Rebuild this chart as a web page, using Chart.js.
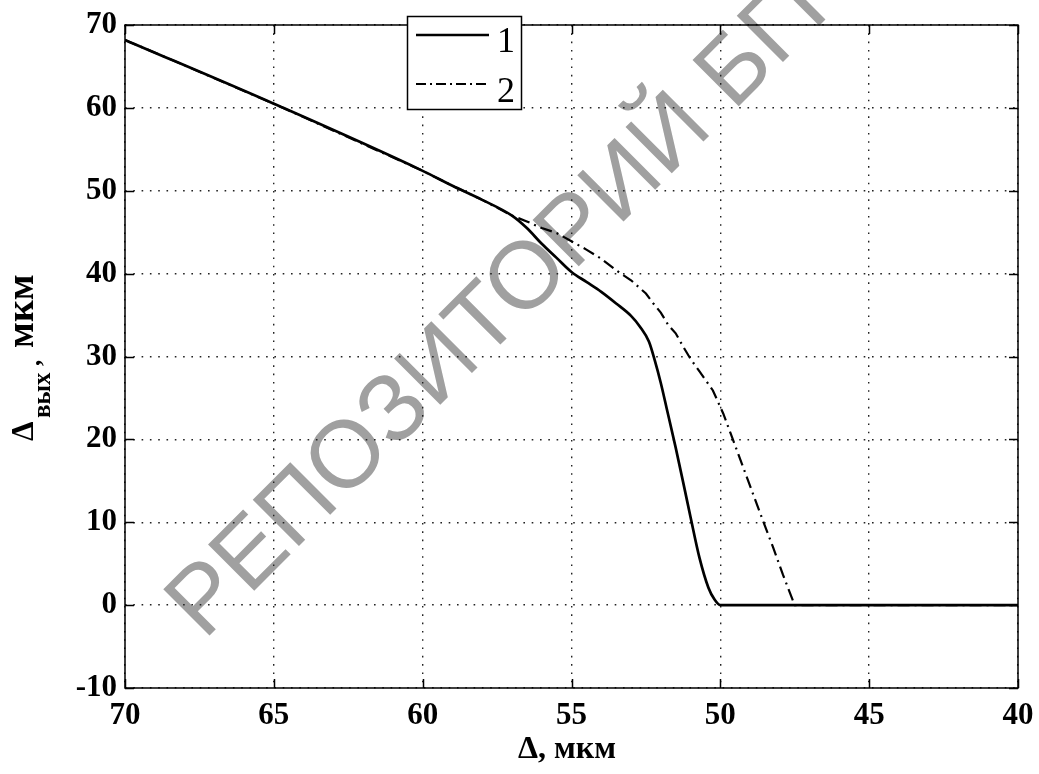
<!DOCTYPE html>
<html>
<head>
<meta charset="utf-8">
<script src="https://cdn.jsdelivr.net/npm/chart.js@4"></script>
<style>
  html,body{margin:0;padding:0;background:#fff;}
  #wrap{width:1039px;height:774px;}
</style>
</head>
<body>
<div id="wrap"><canvas id="c" width="1039" height="774"></canvas></div>
<script>
// кривая 1 (сплошная)
const solidX = [70, 65, 60, 59, 58, 57, 56.5, 56, 55.5, 55, 54.5, 54, 53.5, 53, 52.7, 52.4, 52.2, 52, 51.8, 51.5, 51.2, 51, 50.7, 50.4, 50.2, 50, 45, 40];
const solidY = [68.2, 60.5, 52.4, 50.6, 48.9, 47.0, 45.5, 43.6, 41.9, 40.2, 39.0, 37.8, 36.4, 34.9, 33.6, 31.8, 29.5, 26.8, 23.7, 19.0, 14.0, 10.6, 5.7, 2.1, 0.7, 0, 0, 0];
// кривая 2 (штрих-пунктир)
const dashX = [70, 65, 60, 59, 58, 57, 56.5, 56, 55.5, 55, 54.5, 54, 53.5, 53, 52.5, 52.25, 52, 51.75, 51.5, 51.25, 51, 50.7, 50.25, 49.9, 49.57, 49.24, 48.9, 48.57, 48.23, 47.9, 47.6, 47.5, 45, 40];
const dashY = [68.2, 60.5, 52.4, 50.6, 48.9, 47.0, 46.3, 45.5, 44.9, 43.9, 42.9, 41.8, 40.4, 39.2, 37.6, 36.4, 35.3, 33.8, 32.8, 31.2, 29.7, 28.2, 25.9, 23.1, 19.9, 16.7, 13.4, 10.2, 7.0, 3.7, 0.9, 0, 0, 0];
const legendLabels = ['1', '2'];
const xTitle = 'Δ, мкм';
const watermark = 'РЕПОЗИТОРИЙ БГПУ';

const SERIF = '"Liberation Serif","Times New Roman",serif';
const pts = (xs, ys) => xs.map((x, i) => ({x: x, y: ys[i]}));

function rotText(ctx, txt, x, y, font){
  ctx.save();
  ctx.translate(x, y);
  ctx.rotate(-Math.PI/2);
  ctx.font = font;
  ctx.textAlign = 'left';
  ctx.textBaseline = 'alphabetic';
  ctx.fillText(txt, 0, 0);
  ctx.restore();
}

const decor = {
  id: 'decor',
  beforeDraw(chart){
    const ctx = chart.ctx;
    ctx.save();
    ctx.translate(204, 641);
    ctx.rotate(-Math.PI/4);
    ctx.font = '95px "Liberation Sans",Arial,sans-serif';
    ctx.fillStyle = '#a0a0a0';
    ctx.fillText(watermark, 0, 0);
    ctx.restore();
  },
  afterDraw(chart){
    const ctx = chart.ctx, a = chart.chartArea;
    const xs = chart.scales.x, ys = chart.scales.y;
    ctx.save();
    ctx.strokeStyle = '#000';
    ctx.lineWidth = 1.5;
    ctx.strokeRect(a.left, a.top, a.right - a.left, a.bottom - a.top);
    // внутренние засечки
    ctx.beginPath();
    xs.ticks.forEach(t => {
      const px = Math.round(xs.getPixelForValue(t.value)) + 0.5;
      ctx.moveTo(px, a.bottom); ctx.lineTo(px, a.bottom - 9);
      ctx.moveTo(px, a.top); ctx.lineTo(px, a.top + 9);
    });
    ys.ticks.forEach(t => {
      const py = Math.round(ys.getPixelForValue(t.value)) + 0.5;
      ctx.moveTo(a.left, py); ctx.lineTo(a.left + 9, py);
      ctx.moveTo(a.right, py); ctx.lineTo(a.right - 9, py);
    });
    ctx.stroke();

    // легенда
    const bx = 407, by = 16, bw = 114, bh = 93;
    ctx.fillStyle = '#fff';
    ctx.fillRect(bx, by, bw, bh);
    ctx.lineWidth = 1.5;
    ctx.strokeRect(bx + 0.5, by + 0.5, bw, bh);
    ctx.lineWidth = 2.5;
    ctx.beginPath(); ctx.moveTo(416, 35); ctx.lineTo(489, 35); ctx.stroke();
    ctx.lineWidth = 2;
    ctx.setLineDash([10, 4, 2, 4]);
    ctx.beginPath(); ctx.moveTo(416, 84); ctx.lineTo(489, 84); ctx.stroke();
    ctx.setLineDash([]);
    ctx.fillStyle = '#000';
    ctx.font = '36px ' + SERIF;
    ctx.textAlign = 'left';
    ctx.fillText(legendLabels[0], 497, 52);
    ctx.fillText(legendLabels[1], 497, 102);

    // подпись оси X
    ctx.font = 'bold 32px ' + SERIF;
    ctx.textAlign = 'center';
    ctx.fillText(xTitle, 567, 758);

    // подпись оси Y: Δ_вых, мкм
    rotText(ctx, 'Δ', 33, 441, 'bold 31px ' + SERIF);
    rotText(ctx, 'вых', 50, 418, 'bold 25px ' + SERIF);
    rotText(ctx, ',', 40, 366, 'bold 25px ' + SERIF);
    rotText(ctx, 'мкм', 33, 348, 'bold 38px ' + SERIF);
    ctx.restore();
  }
};

new Chart(document.getElementById('c').getContext('2d'), {
  type: 'scatter',
  data: { datasets: [
    { label: legendLabels[0], data: pts(solidX, solidY), showLine: true, borderColor: '#000', borderWidth: 2.7,
      pointRadius: 0, cubicInterpolationMode: 'monotone', order: 1 },
    { label: legendLabels[1], data: pts(dashX, dashY), showLine: true, borderColor: '#000', borderWidth: 2.2,
      borderDash: [12, 5, 2, 5], pointRadius: 0, tension: 0, order: 2 }
  ]},
  options: {
    responsive: false, animation: false, devicePixelRatio: 1,
    layout: { padding: { left: 0, top: 25, right: 21, bottom: 0 } },
    plugins: { legend: { display: false }, tooltip: { enabled: false } },
    scales: {
      x: {
        type: 'linear', reverse: true, min: 40, max: 70,
        grid: { color: '#222', lineWidth: 1.4, drawTicks: false },
        border: { display: false, dash: [1.6, 6.7] },
        ticks: { stepSize: 5, color: '#000', padding: 9, font: { family: SERIF, size: 31, weight: 'bold' } },
        afterFit(s){ s.height = 86; s.paddingLeft = 0; s.paddingRight = 0; }
      },
      y: {
        min: -10, max: 70,
        grid: { color: '#222', lineWidth: 1.4, drawTicks: false },
        border: { display: false, dash: [1.6, 6.7] },
        ticks: { stepSize: 10, color: '#000', padding: 8, font: { family: SERIF, size: 31, weight: 'bold' } },
        afterFit(s){ s.width = 125; s.paddingTop = 0; s.paddingBottom = 0; }
      }
    }
  },
  plugins: [decor]
});
</script>
</body>
</html>
